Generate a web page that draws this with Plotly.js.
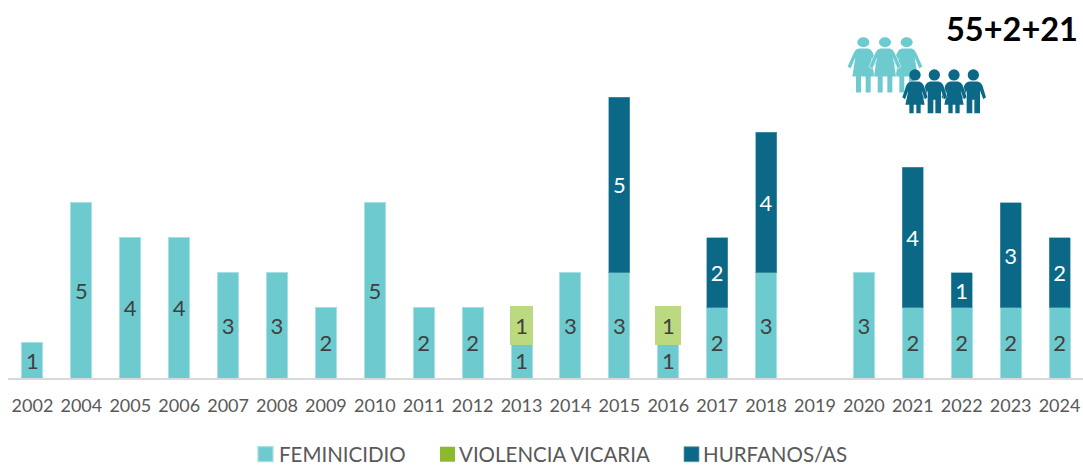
<!DOCTYPE html>
<html>
<head>
<meta charset="utf-8">
<script src="https://cdn.plot.ly/plotly-3.0.1.min.js"></script>
<style>html,body{margin:0;padding:0;background:#fff;overflow:hidden}#chart{width:1083px;height:465px}</style>
</head>
<body>
<div id="chart"></div>
<script>
const years = ["2002","2004","2005","2006","2007","2008","2009","2010","2011","2012","2013","2014","2015","2016","2017","2018","2019","2020","2021","2022","2023","2024"];
const feminicidio = [1,5,4,4,3,3,2,5,2,2,1,3,3,1,2,3,null,3,2,2,2,2];
const violencia = [null,null,null,null,null,null,null,null,null,null,1,null,null,1,null,null,null,null,null,null,null,null];
const hurfanos = [null,null,null,null,null,null,null,null,null,null,null,null,5,null,2,4,null,null,4,1,3,2];

const W = 1083, H = 465, L = 8, B = 378.5;
const FONT = 'Lato, "Open Sans", sans-serif';
const lab = a => a.map(v => v === null ? '' : String(v));
const vicWidths = violencia.map((v, i) => years[i] === '2013' ? 0.378 : 0.44);
const vicFill = violencia.map((v, i) => i === 0 ? '#8DB92F' : '#BBD97F');
const vicLineW = violencia.map((v, i) => i === 0 ? 0 : 4.5);

const base = {type: 'bar', x: years, textposition: 'inside', insidetextanchor: 'middle', textangle: 0, constraintext: 'none', hoverinfo: 'skip', cliponaxis: false};
const traces = [
  Object.assign({}, base, {name: 'FEMINICIDIO', y: feminicidio, text: lab(feminicidio), width: 0.43,
    marker: {color: '#6DCBCF', line: {color: '#A6E0E2', width: 1}},
    insidetextfont: {family: FONT, size: 22, color: '#404040'}}),
  Object.assign({}, base, {name: 'VIOLENCIA VICARIA', y: violencia, text: lab(violencia), width: vicWidths,
    marker: {color: vicFill, line: {color: '#BBD97F', width: vicLineW}},
    insidetextfont: {family: FONT, size: 22, color: '#404040'}}),
  Object.assign({}, base, {name: 'HURFANOS/AS', y: hurfanos, text: lab(hurfanos), width: 0.43,
    marker: {color: '#0B6887', line: {color: '#5E9DB2', width: 0.6}},
    insidetextfont: {family: FONT, size: 22, color: '#FFFFFF'}})
];

function woman(x){
  return `<g transform="translate(${x} 0)" fill="#6DCBCF" stroke="#fff" stroke-width="3" paint-order="stroke"><ellipse cx="0" cy="127" rx="18" ry="15" stroke="none"/><path d="M-14,146 L14,146 Q24,148 28,158 L47,200 L38,206 L24,172 L33,230 L22,230 L22,278 L7,278 L7,230 L-7,230 L-7,278 L-22,278 L-22,230 L-33,230 L-24,172 L-38,206 L-47,200 L-28,158 Q-24,148 -14,146Z"/></g>`;
}
function girl(x){
  return `<g transform="translate(${x} 0)" fill="#0B6887" stroke="#fff" stroke-width="2" paint-order="stroke"><circle cx="0" cy="225" r="17" stroke="none"/><path d="M-12,245 L12,245 Q22,247 26,256 L38,292 L30,298 L20,272 L29,315 L17,315 L17,340 L4,340 L4,315 L-4,315 L-4,340 L-17,340 L-17,315 L-29,315 L-20,272 L-30,298 L-38,292 L-26,256 Q-22,247 -12,245Z"/></g>`;
}
function boy(x){
  return `<g transform="translate(${x} 0)" fill="#0B6887" stroke="#fff" stroke-width="2" paint-order="stroke"><circle cx="0" cy="225" r="17" stroke="none"/><path d="M-13,245 L13,245 Q23,247 27,256 L38,292 L30,298 L20,272 L20,340 L3,340 L3,300 L-3,300 L-3,340 L-20,340 L-20,272 L-30,298 L-38,292 L-27,256 Q-23,247 -13,245Z"/></g>`;
}
const svg = `<svg xmlns="http://www.w3.org/2000/svg" width="253" height="130" viewBox="0 0 759 390">` +
  woman(100) + woman(230) + woman(165) + boy(430) + girl(372) + boy(313) + girl(255) + `</svg>`;
const icon = 'data:image/svg+xml;base64,' + btoa(svg);

const plotW = W - L, plotH = B;
const layout = {
  width: W, height: H,
  margin: {l: L, r: 0, t: 0, b: H - B, pad: 0, autoexpand: false},
  paper_bgcolor: '#fff', plot_bgcolor: '#fff',
  barmode: 'stack',
  showlegend: true,
  xaxis: {type: 'category', range: [-0.5, 21.48], showgrid: false, zeroline: false, showline: true, linecolor: '#D9D9D9', linewidth: 2,
    ticks: '', ticklen: 0, tickangle: 0, ticklabelstandoff: 10, tickfont: {family: FONT, size: 18, color: '#595959'}, automargin: false},
  yaxis: {range: [0, 10.77], visible: false, showgrid: false, zeroline: false, fixedrange: true},
  legend: {orientation: 'h', x: 0.5, xanchor: 'center', y: -(455 - B) / plotH, yanchor: 'middle',
    font: {family: FONT, size: 20.5, color: '#595959'}, traceorder: 'normal', itemclick: false},
  annotations: [{xref: 'paper', yref: 'paper', x: (1080 - L) / plotW, y: (B - 28.5) / plotH, xanchor: 'right', yanchor: 'middle',
    text: '<b>55+2+21</b>', showarrow: false, font: {family: FONT, size: 32.5, color: '#000'}}],
  images: [{source: icon, xref: 'paper', yref: 'paper', x: (830 - L) / plotW, y: B / plotH, sizex: 253 / plotW, sizey: 130 / plotH,
    xanchor: 'left', yanchor: 'top', sizing: 'stretch', layer: 'above'}]
};

// Reference legend: where each swatch and each label begins, in page pixels.
const legendSwatchLeft = [258, 440, 684];
const legendTextLeft = [279, 459, 703];
const legendSwatchScale = 1.25;

Plotly.newPlot('chart', traces, layout, {displayModeBar: false, staticPlot: true}).then(() => {
  const root = document.getElementById('chart');
  root.querySelectorAll('.legend .scrollbox').forEach(s => s.removeAttribute('clip-path'));
  root.querySelectorAll('.legend .traces').forEach((tr, i) => {
    const text = tr.querySelector('.legendtext');
    const pts = tr.querySelector('.legendpoints');
    const m0 = (tr.getAttribute('transform') || '').match(/translate\(([-\d.]+)[ ,]*([-\d.]*)\)/);
    const tx0 = m0 ? parseFloat(m0[1]) : 0, ty0 = m0 && m0[2] ? parseFloat(m0[2]) : 0;
    const dT = legendTextLeft[i] - text.getBoundingClientRect().left;
    tr.setAttribute('transform', `translate(${tx0 + dT},${ty0})`);
    const path = pts.querySelector('path');
    path.setAttribute('transform', `scale(${legendSwatchScale})`);
    const dS = legendSwatchLeft[i] - path.getBoundingClientRect().left;
    pts.setAttribute('transform', `translate(${dS},0)`);
  });
});
</script>
</body>
</html>
